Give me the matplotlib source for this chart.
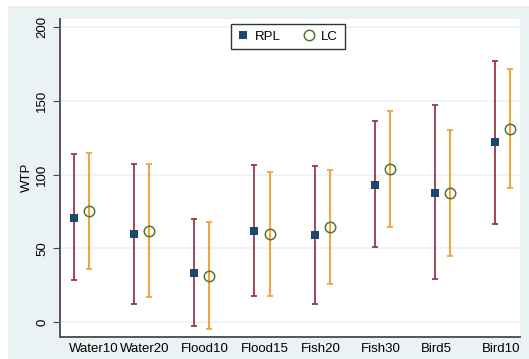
import matplotlib
matplotlib.use("Agg")
import matplotlib.pyplot as plt
import matplotlib.transforms as mtransforms
from matplotlib.patches import Rectangle
import numpy as np

plt.rcParams['font.family'] = ['Liberation Sans', 'DejaVu Sans']

categories = ["Water10", "Water20", "Flood10", "Flood15", "Fish20", "Fish30", "Bird5", "Bird10"]

rpl_wtp = [70.7, 59.7, 33.4, 61.9, 59.2, 93.1, 87.7, 122.2]
rpl_low = [28.3, 12.0, -2.5, 17.4, 12.2, 50.6, 29.0, 66.6]
rpl_high = [113.9, 107.3, 69.6, 106.2, 106.0, 136.1, 146.9, 177.2]

lc_wtp = [75.3, 61.9, 31.4, 59.7, 64.2, 103.5, 87.5, 131.1]
lc_low = [35.9, 17.0, -5.0, 17.6, 26.0, 64.4, 44.7, 90.8]
lc_high = [114.6, 107.3, 68.0, 101.5, 102.8, 142.8, 130.2, 171.5]

y_ticks = [0, 50, 100, 150, 200]

navy = "#1a476f"
maroon = "#993844"
green = "#55752f"
orange = "#eda546"
bg = "#eaf2f3"

fig = plt.figure(figsize=(5.29, 3.59), dpi=100)
fig.patch.set_facecolor("white")
fig.patches.append(Rectangle((8 / 529, 0), 1 - 8 / 529, (359 - 6) / 359,
                             transform=fig.transFigure, facecolor=bg,
                             edgecolor="none", zorder=-10))

ax = fig.add_axes([60 / 529, 1 - 337 / 359, 460 / 529, (337 - 18.5) / 359])
ax.set_zorder(1)
ax.set_facecolor("white")

x = np.arange(1, len(categories) + 1)
x_lc = x + 0.25

rpl = np.array(rpl_wtp)
lc = np.array(lc_wtp)

ax.errorbar(x, rpl, yerr=[rpl - np.array(rpl_low), np.array(rpl_high) - rpl],
            fmt="none", ecolor=maroon, elinewidth=1.3, capsize=2.5, capthick=1.3, zorder=2)
ax.errorbar(x_lc, lc, yerr=[lc - np.array(lc_low), np.array(lc_high) - lc],
            fmt="none", ecolor=orange, elinewidth=1.5, capsize=2.5, capthick=1.3, zorder=2)

ax.plot(x, rpl, linestyle="none", marker="s", markersize=6, color=navy,
        markeredgewidth=0, label="RPL", zorder=3)
ax.plot(x_lc, lc, linestyle="none", marker="o", markersize=7.5,
        markerfacecolor="none", markeredgecolor=green, markeredgewidth=1.1,
        label="LC", zorder=3)

ax.set_xlim(0.87, 8.41)
ax.set_ylim(-10.2, 205.8)

ax.set_yticks(y_ticks)
ax.set_yticklabels([str(t) for t in y_ticks], rotation=90, va="center", fontsize=9.5)
ax.tick_params(axis="y", length=5, width=0.8, color="#444444", pad=3.5)
ax.yaxis.grid(True, color=bg, linewidth=1.2)
ax.set_axisbelow(True)

ax.set_xticks(x - 0.23)
ax.set_xticklabels(categories, ha="left", fontsize=9.5)
ax.tick_params(axis="x", length=0, pad=4.5)
first = ax.get_xticklabels()[0]
first.set_transform(first.get_transform() +
                    mtransforms.ScaledTranslation(8.5 / 100, 0, fig.dpi_scale_trans))

ax.set_ylabel("WTP", fontsize=9.5, labelpad=2)

for side in ("top", "right"):
    ax.spines[side].set_visible(False)
for side in ("left", "bottom"):
    ax.spines[side].set_color("#555555")
    ax.spines[side].set_linewidth(1.4)

leg = ax.legend(loc="upper center", bbox_to_anchor=(0.495, 0.983), ncol=2,
                frameon=True, fancybox=False, fontsize=9.5, handlelength=0.8,
                handletextpad=0.5, columnspacing=1.8, borderpad=0.5,
                borderaxespad=0)
leg.get_frame().set_edgecolor("black")
leg.get_frame().set_linewidth(1.0)

fig.savefig("out.png", dpi=100, facecolor=fig.get_facecolor())
